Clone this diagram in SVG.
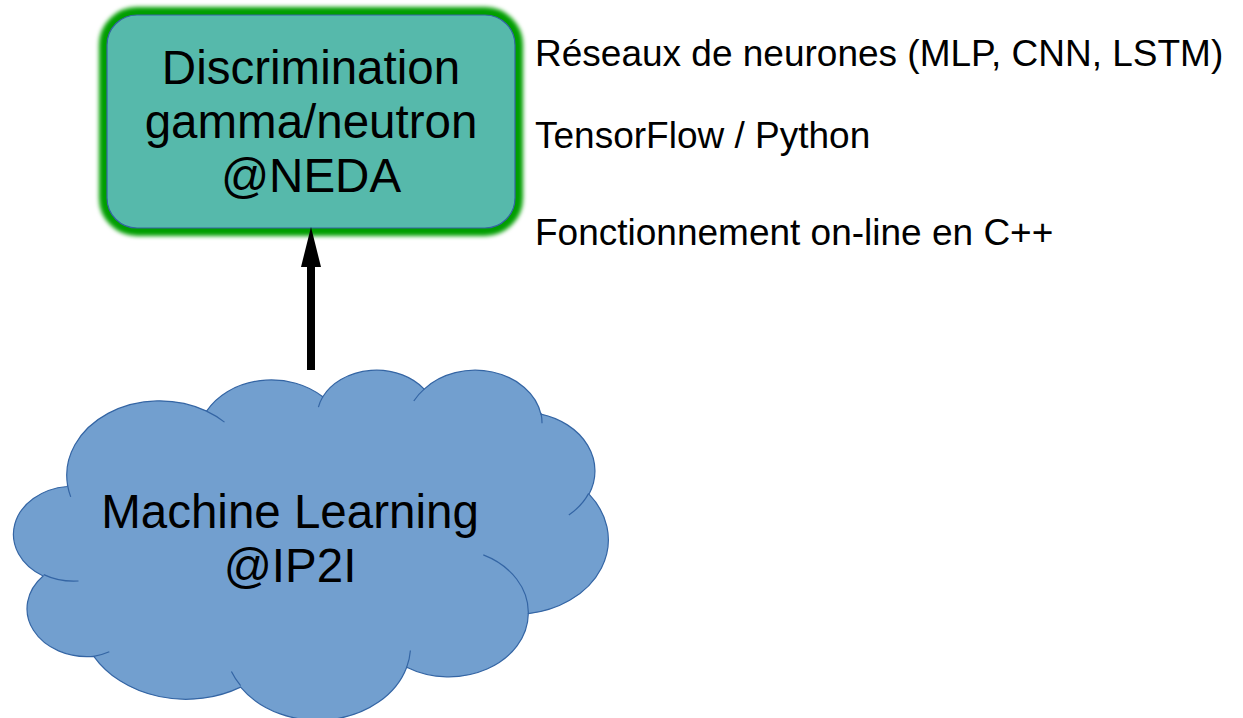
<svg xmlns="http://www.w3.org/2000/svg" width="1243" height="718" viewBox="0 0 1243 718">
  <style>
    .lbl { font-family: "Liberation Sans", Arial, sans-serif; fill: #000; }
    .big { font-size: 47.5px; text-anchor: middle; }
    .note { font-size: 37px; }
    .cloud { fill: #729fcf; stroke: #3465a4; stroke-width: 1.2; }
    .cloud-inner { fill: none; stroke: #3465a4; stroke-width: 1.2; }
  </style>
  <defs>
    <filter id="glow" x="-10%" y="-15%" width="120%" height="130%">
      <feGaussianBlur stdDeviation="2"/>
    </filter>
    <marker id="head" markerUnits="userSpaceOnUse" markerWidth="40" markerHeight="20" viewBox="0 0 40 20" refX="0" refY="10" orient="auto">
      <path d="M0,0 L40,10 L0,20 Z" fill="#000"/>
    </marker>
  </defs>

  <rect width="1243" height="718" fill="#fff"/>

  <!-- Target box with green glow -->
  <g id="node-neda">
    <rect x="107" y="15" width="408" height="213" rx="30" ry="30" fill="none" stroke="#009e00" stroke-width="16" filter="url(#glow)"/>
    <rect x="107" y="15" width="408" height="213" rx="30" ry="30" fill="#56b9ab" stroke="#3465a4" stroke-width="1.2"/>
    <text class="lbl big" x="311" y="84">Discrimination</text>
    <text class="lbl big" x="311" y="138">gamma/neutron</text>
    <text class="lbl big" x="311" y="192">@NEDA</text>
  </g>

  <!-- Cloud shape -->
  <g id="node-ml">
    <path class="cloud" d="M67.6,485.4 A92.85,74.44 0 0 1 206.6,411.1 A73.33,58.86 0 0 1 322.8,396.8 A60.02,48.15 0 0 1 424.2,389.1 A66.78,53.42 0 0 1 540.9,414.1 A73.33,58.91 0 0 1 589.0,494.2 A93.16,74.68 0 0 1 528.3,613.7 A79.54,63.72 0 0 1 406.7,667.2 A92.84,74.64 0 0 1 240.6,687.1 A106.15,85.40 0 0 1 93.8,656.3 A59.95,47.94 0 0 1 43.1,576.0 A59.74,48.15 0 0 1 67.1,486.5 Z"/>
    <path class="cloud-inner" d="M78.5,581.0 A59.74,48.15 0 0 1 43.7,574.6 M109.3,651.7 A59.95,47.94 0 0 1 93.8,656.3 M240.6,685.6 A92.84,74.64 0 0 1 231.4,671.5 M410.4,650.5 A92.84,74.64 0 0 1 406.7,667.2 M483.3,554.9 A79.54,63.72 0 0 1 528.3,613.7 M588.7,493.4 A73.33,58.91 0 0 1 568.8,515.0 M540.9,413.0 A66.78,53.42 0 0 1 542.0,423.2 M413.8,401.0 A66.78,53.42 0 0 1 424.2,389.1 M318.4,407.2 A60.02,48.15 0 0 1 322.8,396.8 M206.5,411.1 A92.85,74.44 0 0 1 224.5,422.1 M70.7,496.9 A92.85,74.44 0 0 1 67.6,485.4"/>
    <text class="lbl big" x="290" y="528">Machine Learning</text>
    <text class="lbl big" x="290" y="582">@IP2I</text>
  </g>

  <!-- Connector -->
  <g id="connectors">
    <line x1="311" y1="370" x2="311" y2="267" stroke="#000" stroke-width="8" marker-end="url(#head)"/>
  </g>

  <!-- Side notes -->
  <g id="notes">
    <text class="lbl note" x="535" y="66">Réseaux de neurones (MLP, CNN, LSTM)</text>
    <text class="lbl note" x="535" y="148">TensorFlow / Python</text>
    <text class="lbl note" x="535" y="245">Fonctionnement on-line en C++</text>
  </g>
</svg>
